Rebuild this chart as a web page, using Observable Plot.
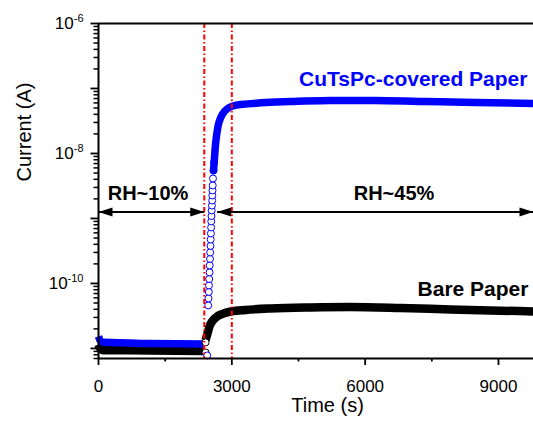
<!DOCTYPE html>
<html><head><meta charset="utf-8">
<script src="https://cdn.jsdelivr.net/npm/d3@7"></script>
<script src="https://cdn.jsdelivr.net/npm/@observablehq/plot@0.6"></script>
<style>body{margin:0;background:#fff} svg{display:block}</style>
</head><body><div id="chart"></div>
<script>
// ---- data (time in s, current in A) ----
const coatedLowTime = [0, 34, 112, 1170, 2362];
const coatedLowCurrent = [1.53e-11, 1.33e-11, 1.24e-11, 1.19e-11, 1.17e-11];
const coatedRiseTime = [2446, 2468, 2475, 2482, 2486, 2491, 2498, 2502, 2509, 2513, 2520, 2525, 2529, 2534, 2538, 2543, 2547, 2552, 2558, 2561, 2565, 2570, 2576, 2588, 2599];
const coatedRiseCurrent = [7.8e-12, 4.59e-11, 5.88e-11, 7.40e-11, 9.31e-11, 1.17e-10, 1.48e-10, 1.89e-10, 2.38e-10, 3.0e-10, 3.78e-10, 4.75e-10, 5.88e-10, 7.27e-10, 9.0e-10, 1.09e-9, 1.33e-9, 1.58e-9, 1.89e-9, 2.26e-9, 2.70e-9, 3.22e-9, 4.12e-9, 5.47e-9, 7.27e-9];
const coatedHighTime = [2588, 2606, 2630, 2666, 2711, 2779, 2880, 2993, 3195, 3600, 4320, 5220, 6233, 7358, 8483, 9788];
const coatedHighCurrent = [5.47e-9, 7.8e-9, 1.3e-8, 2.1e-8, 3.0e-8, 3.91e-8, 4.75e-8, 5.28e-8, 5.67e-8, 5.98e-8, 6.31e-8, 6.54e-8, 6.54e-8, 6.31e-8, 6.09e-8, 5.88e-8];

const bareLowTime = [0, 34, 112, 1170, 2362];
const bareLowCurrent = [1.15e-11, 1.02e-11, 9.4e-12, 9.3e-12, 9.1e-12];
const bareStepTime = [2410, 2410];
const bareStepCurrent = [8.67e-12, 1.24e-11];
const bareHighTime = [2408, 2453, 2498, 2565, 2655, 2790, 2993, 3308, 3870, 4770, 5670, 6795, 7920, 9788];
const bareHighCurrent = [1.33e-11, 1.70e-11, 2.18e-11, 2.65e-11, 3.05e-11, 3.40e-11, 3.71e-11, 3.91e-11, 4.12e-11, 4.28e-11, 4.35e-11, 4.20e-11, 3.98e-11, 3.71e-11];

const humidityChangeTimes = [2380, 3000];
const arrowStart = [0, 2670];
const arrowEnd = [2380, 9788];
const arrowCurrent = [1.26e-9, 1.26e-9];

const rhLabels = ["RH~10%", "RH~45%"];
const rhLabelTime = [1114, 6649];
const rhLabelCurrent = [2.43e-9, 2.43e-9];
const seriesLabels = ["CuTsPc-covered Paper", "Bare Paper"];
const seriesLabelTime = [9652, 9675];
const seriesLabelCurrent = [1.375e-7, 8.09e-11];

const xTicksMajor = [0, 3000, 6000, 9000];
const xTicksMinor = [1500, 4500, 7500];
const yDecades = [1e-11, 1e-10, 1e-9, 1e-8, 1e-7, 1e-6];
const yLabeled = [1e-10, 1e-8, 1e-6];
const yMinor = [];
for (const d of [1e-12, 1e-11, 1e-10, 1e-9, 1e-8, 1e-7]) for (let k = 2; k <= 9; k++) { const v = k * d; if (v >= 7e-12 && v < 1e-6) yMinor.push(v); }

const zip = (t, c) => t.map((d, i) => ({time: d, current: c[i]}));
const coatedLow = zip(coatedLowTime, coatedLowCurrent);
const coatedRise = zip(coatedRiseTime, coatedRiseCurrent);
const coatedHigh = zip(coatedHighTime, coatedHighCurrent);
const bareLow = zip(bareLowTime, bareLowCurrent);
const bareStep = zip(bareStepTime, bareStepCurrent);
const bareHigh = zip(bareHighTime, bareHighCurrent);
const arrows = arrowStart.map((d, i) => ({x1: d, x2: arrowEnd[i], y: arrowCurrent[i]}));
const rhText = rhLabels.map((d, i) => ({text: d, time: rhLabelTime[i], current: rhLabelCurrent[i]}));
const seriesText = seriesLabels.map((d, i) => ({text: d, time: seriesLabelTime[i], current: seriesLabelCurrent[i]}));

const BLUE = "#0000ff", RED = "#ff0000";
const headRight = {draw(ctx) { ctx.moveTo(0, 0); ctx.lineTo(-14, -4.5); ctx.lineTo(-14, 4.5); ctx.closePath(); }};
const headLeft = {draw(ctx) { ctx.moveTo(0, 0); ctx.lineTo(14, -4.5); ctx.lineTo(14, 4.5); ctx.closePath(); }};

const svg = Plot.plot({
  width: 533, height: 423,
  marginLeft: 98, marginRight: 0, marginTop: 23, marginBottom: 65,
  style: {fontFamily: "'Liberation Sans', Arial, sans-serif", background: "#fff", color: "#000"},
  x: {domain: [0, 9788]},
  y: {type: "log", domain: [7e-12, 1e-6]},
  marks: [
    // data
    Plot.line(bareLow, {x: "time", y: "current", stroke: "#000", strokeWidth: 8.5, strokeLinecap: "butt", curve: "monotone-x"}),
    Plot.line(bareHigh, {x: "time", y: "current", stroke: "#000", strokeWidth: 8.5, strokeLinecap: "butt", curve: "monotone-x"}),
    Plot.line(coatedLow, {x: "time", y: "current", stroke: BLUE, strokeWidth: 7.5, strokeLinecap: "butt", curve: "monotone-x"}),
    Plot.dot(bareStep, {x: "time", y: "current", r: 3.5, stroke: "#000", fill: "#fff", strokeWidth: 1}),
    Plot.dot(coatedRise, {x: "time", y: "current", r: 3.5, stroke: BLUE, fill: "#fff", strokeWidth: 1}),
    Plot.line(coatedHigh, {x: "time", y: "current", stroke: BLUE, strokeWidth: 7.5, strokeLinecap: "round", strokeLinejoin: "round", curve: "monotone-y"}),
    // humidity switch markers
    Plot.ruleX(humidityChangeTimes, {stroke: RED, strokeWidth: 2, strokeDasharray: "5,2.5,1.5,2.5"}),
    // frame
    Plot.ruleX([0], {stroke: "#000", strokeWidth: 2}),
    Plot.ruleY([7e-12], {stroke: "#000", strokeWidth: 2}),
    Plot.ruleY([1e-6], {stroke: "#000", strokeWidth: 2}),
    // axes
    Plot.axisX({ticks: xTicksMinor, tickSize: 3.5, strokeWidth: 1.8, tickFormat: () => "", label: null}),
    Plot.axisX({ticks: xTicksMajor, tickSize: 7, strokeWidth: 1.8, tickPadding: 14, fontSize: 17, tickFormat: d => String(d), label: null}),
    Plot.axisY({ticks: yMinor, tickSize: 4.5, strokeWidth: 1.5, tickFormat: () => "", label: null}),
    Plot.axisY({ticks: yDecades, tickSize: 7.5, strokeWidth: 1.8, tickFormat: () => "", label: null}),
    Plot.axisY({ticks: yLabeled, tickSize: 0, tickPadding: 15, fontSize: 17, tickFormat: d => `10^-${-Math.round(Math.log10(d))}`, label: null}),
    Plot.text(["Time (s)"], {text: d => d, frameAnchor: "bottom", dx: 11.5, dy: 53, fontSize: 20}),
    Plot.text(["Current (A)"], {text: d => d, frameAnchor: "left", rotate: -90, dx: -74, dy: -9.5, fontSize: 20}),
    // arrows
    Plot.link(arrows, {x1: "x1", x2: "x2", y1: "y", y2: "y", stroke: "#000", strokeWidth: 2}),
    Plot.dot(arrows, {x: "x1", y: "y", symbol: headLeft, fill: "#000", stroke: null}),
    Plot.dot(arrows, {x: "x2", y: "y", symbol: headRight, fill: "#000", stroke: null}),
    // annotations
    Plot.text(rhText, {x: "time", y: "current", text: "text", fontSize: 20, fontWeight: "bold", fill: "#000"}),
    Plot.text(seriesText, {x: "time", y: "current", text: "text", fontSize: 21, fontWeight: "bold", textAnchor: "end", fill: (d, i) => i === 0 ? BLUE : "#000"})
  ]
});

d3.select(svg).selectAll('g[aria-label="y-axis tick label"] text').each(function() {
  const t = this.textContent;
  const m = t.match(/^10\^(.*)$/);
  if (m) {
    const s = d3.select(this);
    s.text("");
    s.append("tspan").text("10");
    s.append("tspan").attr("dy", "-7").attr("font-size", 11).text(m[1]);
  }
});
document.getElementById("chart").appendChild(svg);
</script>
</body></html>
